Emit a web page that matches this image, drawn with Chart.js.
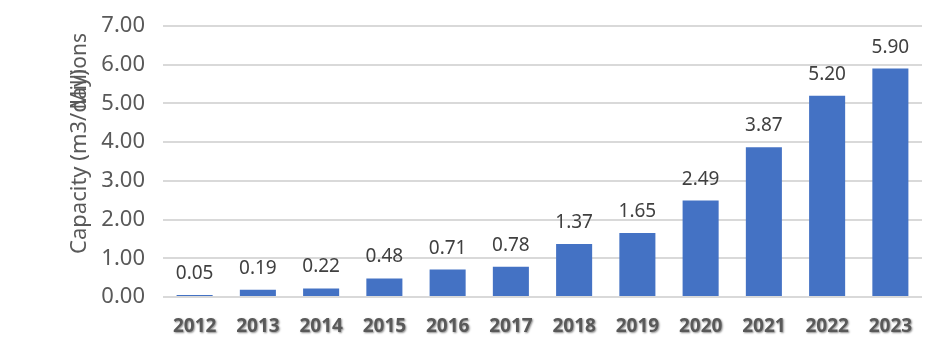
<!DOCTYPE html>
<html>
<head>
<meta charset="utf-8">
<script src="https://cdn.jsdelivr.net/npm/chart.js@4.4.1/dist/chart.umd.min.js"></script>
<style>
html,body{margin:0;padding:0;background:#fff;}
#c{display:block;}
</style>
</head>
<body>
<canvas id="c" width="945" height="355"></canvas>
<script>
const years = ['2012','2013','2014','2015','2016','2017','2018','2019','2020','2021','2022','2023'];
const capacity = [0.05,0.19,0.22,0.48,0.71,0.78,1.37,1.65,2.49,3.87,5.20,5.90];
const yTicks = [0,1,2,3,4,5,6,7];
const yTitle = 'Capacity (m3/day)';
const unitLabel = 'Millions';

const FONT = '"Noto Sans", "Open Sans", sans-serif';

const valueLabels = {
  id: 'valueLabels',
  afterDatasetsDraw(chart) {
    const ctx = chart.ctx;
    const meta = chart.getDatasetMeta(0);
    ctx.save();
    ctx.font = '19px ' + FONT;
    ctx.fillStyle = '#404040';
    ctx.textAlign = 'center';
    ctx.textBaseline = 'alphabetic';
    meta.data.forEach((bar, i) => {
      ctx.fillText(capacity[i].toFixed(2), bar.x, bar.y - 16);
    });
    ctx.restore();
  }
};

const unitPlugin = {
  id: 'unitPlugin',
  afterDraw(chart) {
    const ctx = chart.ctx;
    const y = chart.scales.y;
    ctx.save();
    ctx.translate(80, y.top + 7);
    ctx.rotate(-Math.PI / 2);
    ctx.font = '21px ' + FONT;
    ctx.fillStyle = '#595959';
    ctx.textAlign = 'right';
    ctx.textBaseline = 'middle';
    ctx.fillText(unitLabel, 0, 0);
    ctx.restore();
  }
};

const shadowLabels = {
  id: 'shadowLabels',
  beforeDraw(chart) {
    const s = chart.scales.x;
    if (s && !s._shadowWrapped) {
      const orig = s.drawLabels.bind(s);
      s.drawLabels = function(ca) {
        const ctx = this.ctx;
        ctx.save();
        ctx.shadowColor = 'rgba(0,0,0,0.45)';
        ctx.shadowOffsetX = 1;
        ctx.shadowOffsetY = 1;
        ctx.shadowBlur = 2;
        orig(ca);
        ctx.restore();
      };
      s._shadowWrapped = true;
    }
  }
};

new Chart(document.getElementById('c'), {
  type: 'bar',
  data: {
    labels: years,
    datasets: [{
      data: capacity,
      backgroundColor: '#4472c4',
      borderWidth: 0,
      categoryPercentage: 1.0,
      barPercentage: 0.57
    }]
  },
  options: {
    responsive: false,
    devicePixelRatio: 1,
    animation: false,
    layout: { padding: { left: 0, top: 26, right: 23, bottom: 0 } },
    plugins: {
      legend: { display: false },
      tooltip: { enabled: false }
    },
    scales: {
      x: {
        grid: { display: false, drawTicks: false },
        border: { display: false },
        ticks: {
          color: '#595959',
          font: { family: FONT, size: 19, weight: 'bold' },
          padding: 18,
          maxRotation: 0,
          autoSkip: false
        },
        afterFit(scale) { scale.height = 58; scale.paddingLeft = 0; scale.paddingRight = 0; }
      },
      y: {
        min: 0,
        max: 7,
        afterBuildTicks(scale) { scale.ticks = yTicks.map(v => ({ value: v })); },
        grid: { color: '#d9d9d9', lineWidth: 2, drawTicks: false },
        border: { display: false },
        ticks: {
          color: '#595959',
          font: { family: FONT, size: 22 },
          padding: 18,
          callback: v => Number(v).toFixed(2)
        },
        title: {
          display: true,
          text: yTitle,
          color: '#595959',
          font: { family: FONT, size: 22 },
          padding: { top: 67, bottom: 0 }
        },
        afterFit(scale) { scale.width = 163; scale.paddingTop = 0; scale.paddingBottom = 0; }
      }
    }
  },
  plugins: [valueLabels, unitPlugin, shadowLabels]
});
</script>
</body>
</html>
